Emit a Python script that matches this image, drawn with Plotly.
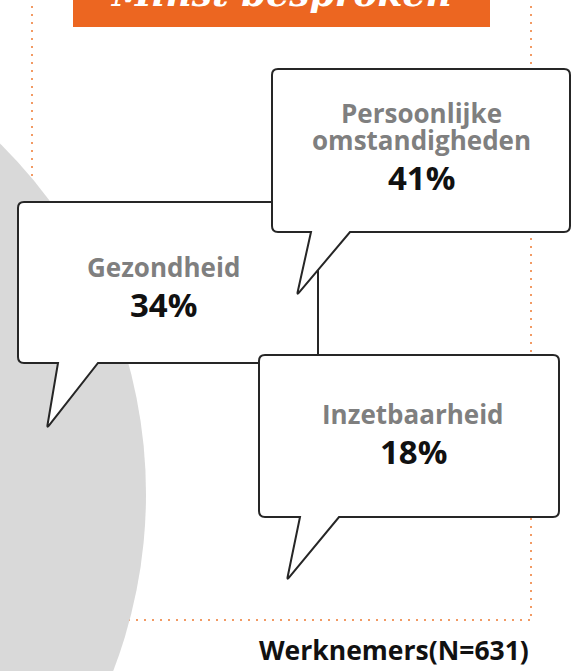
import plotly.graph_objects as go
import math

# ---- data ----
categories = ["Persoonlijke omstandigheden", "Gezondheid", "Inzetbaarheid"]
label_lines = [["Persoonlijke", "omstandigheden"], ["Gezondheid"], ["Inzetbaarheid"]]
percentages = [41, 34, 18]
title_text = "Minst besproken"
footer_text = "Werknemers(N=631)"

# ---- layout (pixel positions of bubbles) ----
# (left, top, right, bottom, tail_x1, tail_x2, tip_x, tip_y)
bubble_boxes = [
    (272, 69, 570, 232, 311, 350, 297, 295),
    (18, 202, 318, 363, 58, 98, 47, 428),
    (259, 355, 559, 517, 300, 339, 287, 580),
]
text_centers = [(421, 113), (163, 267), (413, 414)]
draw_order = [1, 0, 2]

W, H = 577, 671
ORANGE = "#EC6621"
DOT = "#F29A64"
EDGE = "#262626"
GRAY_TXT = "#7F7F7F"
FONT = "Open Sans"


def bubble_path(L, T, R, B, t1, t2, tx, ty, r=6, tr=3):
    def toward(px, py, qx, qy, d):
        dx, dy = qx - px, qy - py
        n = math.hypot(dx, dy)
        return px + dx / n * d, py + dy / n * d
    ax, ay = toward(tx, ty, t2, B, tr)
    bx, by = toward(tx, ty, t1, B, tr)
    return (f"M {L+r},{T} L {R-r},{T} Q {R},{T} {R},{T+r} L {R},{B-r} "
            f"Q {R},{B} {R-r},{B} L {t2},{B} L {ax:.2f},{ay:.2f} "
            f"Q {tx},{ty} {bx:.2f},{by:.2f} L {t1},{B} L {L+r},{B} "
            f"Q {L},{B} {L},{B-r} L {L},{T+r} Q {L},{T} {L+r},{T} Z")


shapes = []
# dotted frame
dot_line = dict(color=DOT, width=2, dash="2px,6px")
shapes.append(dict(type="line", x0=32, x1=32, y0=-10, y1=620, line=dot_line))
shapes.append(dict(type="line", x0=531, x1=531, y0=-10, y1=620, line=dot_line))
shapes.append(dict(type="line", x0=32, x1=531, y0=620, y1=620, line=dot_line))
# gray circle
cx, cy, cr = -348, 494, 494
shapes.append(dict(type="circle", x0=cx - cr, x1=cx + cr, y0=cy - cr, y1=cy + cr,
                   fillcolor="#D9D9D9", line=dict(width=0)))
# banner
shapes.append(dict(type="rect", x0=73, x1=490, y0=-10, y1=27,
                   fillcolor=ORANGE, line=dict(width=0)))
# bubbles
for i in draw_order:
    shapes.append(dict(type="path", path=bubble_path(*bubble_boxes[i]),
                       fillcolor="white", line=dict(color=EDGE, width=2)))

annotations = []
annotations.append(dict(x=281, y=16, text=title_text, showarrow=False,
                        xanchor="center", yanchor="bottom",
                        font=dict(family="DejaVu Serif", size=36, color="white",
                                  weight="bold", style="italic")))
for i, (lines, pct) in enumerate(zip(label_lines, percentages)):
    x0, y0 = text_centers[i]
    for k, ln in enumerate(lines):
        annotations.append(dict(x=x0, y=y0 + 27 * k, text=ln, showarrow=False,
                                xanchor="center", yanchor="middle",
                                font=dict(family=FONT, size=26, color=GRAY_TXT, weight="bold")))
    annotations.append(dict(x=x0, y=y0 + 27 * (len(lines) - 1) + 37, text=f"{pct}%",
                            showarrow=False, xanchor="center", yanchor="middle",
                            font=dict(family=FONT, size=33, color="#111111", weight="bold")))
annotations.append(dict(x=531, y=650, text=footer_text, showarrow=False,
                        xanchor="right", yanchor="middle",
                        font=dict(family=FONT, size=26.5, color="#111111", weight="bold")))

fig = go.Figure()
fig.update_layout(
    width=W, height=H, margin=dict(l=0, r=0, t=0, b=0),
    paper_bgcolor="white", plot_bgcolor="white",
    xaxis=dict(range=[0, W], visible=False, fixedrange=True),
    yaxis=dict(range=[H, 0], visible=False, fixedrange=True),
    shapes=shapes, annotations=annotations, showlegend=False,
)
fig.write_html("out.html", config={"displayModeBar": False},
               post_script="document.body.style.margin='0';document.body.style.overflow='hidden';")
